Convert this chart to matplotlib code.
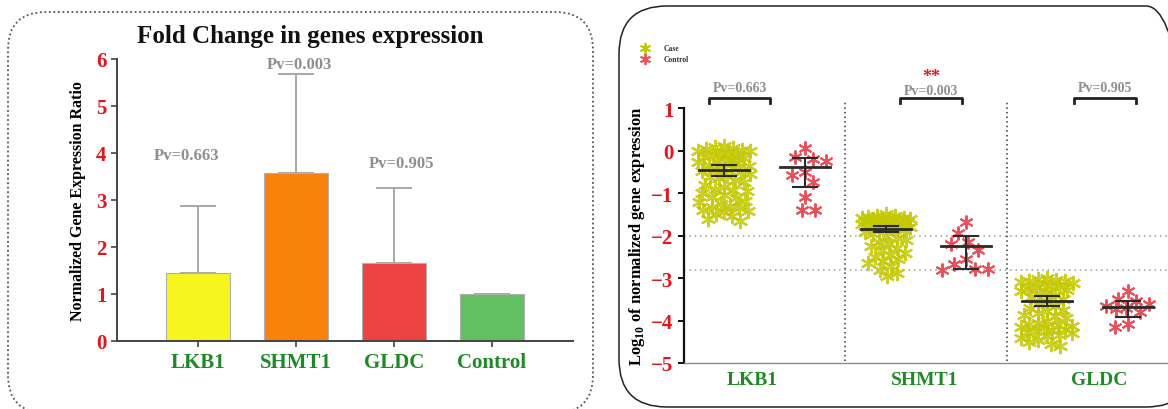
import matplotlib
matplotlib.use("Agg")
import matplotlib.pyplot as plt
from matplotlib.patches import FancyBboxPatch
from matplotlib.transforms import IdentityTransform

plt.rcParams['font.family'] = ['Liberation Serif', 'DejaVu Serif']
plt.rcParams['font.weight'] = 'bold'
plt.rcParams['axes.labelweight'] = 'bold'
plt.rcParams['mathtext.fontset'] = 'custom'
plt.rcParams['mathtext.rm'] = 'Liberation Serif:bold'
plt.rcParams['mathtext.bf'] = 'Liberation Serif:bold'

# ---- fold change (left panel) ----
bar_genes = ['LKB1', 'SHMT1', 'GLDC', 'Control']
fold_change = [1.45, 3.58, 1.65, 1.0]
fold_sd = [1.42, 2.09, 1.60, 0.0]
bar_colors = ['#f7f51e', '#f8820c', '#ee4343', '#62c062']
bar_pvalues = ['Pv=0.663', 'Pv=0.003', 'Pv=0.905']
bar_pv_x = [-0.12, 1.03, 2.08]
bar_pv_y = [3.96, 5.90, 3.79]

# ---- log10 expression (right panel) ----
genes = ['LKB1', 'SHMT1', 'GLDC']
case_lkb1 = [0.10, 0.08, 0.05, 0.03, 0.02, 0.0, -0.02, -0.05, -0.07, -0.10, -0.12,
             -0.15, -0.18, -0.20, -0.22, -0.25, -0.28, -0.30, -0.33, -0.36, -0.40,
             -0.42, -0.45, -0.48, -0.50, -0.55, -0.60, -0.62, -0.65, -0.70, -0.75,
             -0.80, -0.85, -0.90, -0.92, -0.95, -1.00, -1.05, -1.10, -1.12, -1.18,
             -1.20, -1.25, -1.30, -1.33, -1.35, -1.40, -1.42, -1.45, -1.50, -1.55,
             -1.60, -1.65]
ctrl_lkb1 = [0.05, -0.15, -0.20, -0.25, -0.50, -0.58, -0.75, -1.10, -1.40, -1.40]
case_shmt1 = [-1.50, -1.53, -1.55, -1.56, -1.58, -1.58, -1.60, -1.60, -1.61, -1.62,
              -1.63, -1.63, -1.64, -1.65, -1.65, -1.66, -1.67, -1.68, -1.68, -1.70,
              -1.70, -1.72, -1.73, -1.75, -1.76, -1.78, -1.80, -1.82, -1.85, -1.88,
              -1.92, -1.96, -2.00, -2.05, -2.10, -2.15, -2.20, -2.25, -2.30, -2.35,
              -2.40, -2.45, -2.50, -2.55, -2.60, -2.65, -2.72, -2.80, -2.88, -2.95]
ctrl_shmt1 = [-1.68, -1.93, -2.15, -2.20, -2.35, -2.55, -2.67, -2.78, -2.78, -2.82]
case_gldc = [-3.00, -3.02, -3.05, -3.06, -3.08, -3.10, -3.12, -3.15, -3.18, -3.20,
             -3.22, -3.25, -3.28, -3.30, -3.33, -3.36, -3.40, -3.45, -3.50, -3.55,
             -3.60, -3.65, -3.70, -3.75, -3.78, -3.82, -3.86, -3.90, -3.95, -4.00,
             -4.05, -4.08, -4.10, -4.12, -4.15, -4.18, -4.20, -4.22, -4.25, -4.28,
             -4.30, -4.33, -4.36, -4.40, -4.45, -4.50, -4.55, -4.60]
ctrl_gldc = [-3.30, -3.50, -3.55, -3.60, -3.65, -3.70, -3.72, -3.80, -4.08, -4.15]

case_mean = [-0.46, -1.85, -3.53]
case_low = [-0.60, -1.92, -3.67]
case_high = [-0.34, -1.78, -3.42]
ctrl_mean = [-0.39, -2.24, -3.69]
ctrl_low = [-0.85, -2.78, -3.92]
ctrl_high = [-0.18, -2.00, -3.53]
group_pvalues = ['Pv=0.663', 'Pv=0.003', 'Pv=0.905']

case_color = '#c4c800'
ctrl_color = '#e9505a'
red = '#e3161e'
green = '#1f8a25'
grey_txt = '#8f8f8f'

fig = plt.figure(figsize=(11.68, 4.10), dpi=100)

# rounded frames around the two panels (pixel coordinates)
fig.add_artist(FancyBboxPatch((8, -4), 585, 401, boxstyle='round,pad=0,rounding_size=38',
                              transform=IdentityTransform(), fill=False,
                              ec='#555555', lw=1.3, ls=(0, (1, 1.5))))
fig.add_artist(FancyBboxPatch((619, 2), 575, 401, boxstyle='round,pad=0,rounding_size=48',
                              transform=IdentityTransform(), fill=False,
                              ec='#222222', lw=1.1))

# ---------------- left: bar chart ----------------
ax1 = fig.add_axes([0.1002, 0.1659, 0.3904, 0.6878])
x = list(range(len(bar_genes)))
ax1.bar(x, fold_change, width=0.65, color=bar_colors, edgecolor='#b0b0b0', lw=0.8, zorder=2)
ax1.errorbar(x, fold_change, yerr=[[0] * len(fold_sd), fold_sd], fmt='none',
             ecolor='#a8a8a8', elinewidth=1.4, capsize=13, capthick=1.4, zorder=1)
for xv, yv, txt in zip(bar_pv_x, bar_pv_y, bar_pvalues):
    ax1.text(xv, yv, txt, ha='center', va='center', color=grey_txt, fontsize=12)
ax1.set_xlim(-0.83, 3.83)
ax1.set_ylim(0, 6)
ax1.set_xticks(x)
ax1.set_xticklabels(bar_genes, color=green, fontsize=15)
ax1.set_yticks(range(0, 7))
ax1.tick_params(axis='y', labelcolor=red, labelsize=15, length=4, width=1.2, color='#444444')
ax1.tick_params(axis='x', length=4, width=1.2, color='#444444', pad=4)
for s in ['top', 'right']:
    ax1.spines[s].set_visible(False)
for s in ['left', 'bottom']:
    ax1.spines[s].set_color('#444444')
    ax1.spines[s].set_linewidth(1.4)
ax1.set_ylabel('Normalized Gene Expression Ratio', fontsize=11.5, labelpad=7)
fig.text(310 / 1168, 1 - 36 / 410, 'Fold Change in genes expression', ha='center',
         va='center', fontsize=18, fontweight='bold', color='#111111')

# ---------------- right: swarm plot ----------------
ax2 = fig.add_axes([0.5856, 0.1122, 0.4144, 0.6219])
ax2.set_xlim(-0.5, 5.5)
ax2.set_ylim(-5, 1)

pos = ax2.get_position()
px_x = pos.width * fig.get_figwidth() * fig.dpi / 6.0
px_y = pos.height * fig.get_figheight() * fig.dpi / 6.0


def swarm(values, center, d=8.0, half_width=25):
    """Spread points sideways (in pixels) within +-half_width, avoiding overlap where possible."""
    placed = []
    xs = []
    cands = sorted(range(-half_width, half_width + 1), key=abs)
    for v in values:
        yp = v * px_y
        best, best_gap = 0, -1.0
        for o in cands:
            gap = min([((o - a) ** 2 + (yp - b) ** 2) ** 0.5 for a, b in placed] or [99.0])
            if gap >= d:
                best = o
                break
            if gap > best_gap + 0.5:
                best, best_gap = o, gap
        placed.append((best, yp))
        xs.append(center + best / px_x)
    return xs


asterisk = (6, 2, 0)
case_sets = [case_lkb1, case_shmt1, case_gldc]
ctrl_sets = [ctrl_lkb1, ctrl_shmt1, ctrl_gldc]
case_widths = [26, 24, 26]
for g in range(3):
    xc = 2 * g
    xk = 2 * g + 1
    ax2.plot(swarm(case_sets[g], xc, d=9, half_width=case_widths[g]), case_sets[g],
             ls='none', marker=asterisk, ms=11, mec=case_color, mew=1.6, alpha=0.85,
             zorder=2)
    ax2.plot(swarm(ctrl_sets[g], xk, d=13, half_width=24), ctrl_sets[g], ls='none',
             marker=asterisk, ms=10, mec=ctrl_color, mew=1.4, zorder=2)
    for xx, m, lo, hi in [(xc, case_mean[g], case_low[g], case_high[g]),
                          (xk, ctrl_mean[g], ctrl_low[g], ctrl_high[g])]:
        ax2.plot([xx - 0.31, xx + 0.31], [m, m], color='#2a2a2a', lw=2, zorder=3)
        ax2.plot([xx, xx], [lo, hi], color='#2a2a2a', lw=1.5, zorder=3)
        ax2.plot([xx - 0.15, xx + 0.15], [lo, lo], color='#2a2a2a', lw=1.5, zorder=3)
        ax2.plot([xx - 0.15, xx + 0.15], [hi, hi], color='#2a2a2a', lw=1.5, zorder=3)

# group separators and reference levels
for sx in [1.5, 3.5]:
    ax2.plot([sx, sx], [-4.95, 1.2], color='#333333', lw=1.1, ls=(0, (1, 2)), clip_on=False)
for ly in [-2.0, -2.8]:
    ax2.axhline(ly, color='#9a9a9a', lw=1.1, ls=(0, (1, 2.5)), zorder=1)

# significance brackets
brackets = [(-0.19, 0.57), (2.18, 2.95), (4.34, 5.10)]
pv_y = [1.49, 1.42, 1.49]
for (b0, b1), txt, ty in zip(brackets, group_pvalues, pv_y):
    ax2.plot([b0, b0, b1, b1], [1.12, 1.24, 1.24, 1.12], color='#222222', lw=2,
             clip_on=False)
    ax2.text((b0 + b1) / 2, ty, txt, ha='center', va='center', color=grey_txt,
             fontsize=10, clip_on=False)
ax2.text(sum(brackets[1]) / 2, 1.74, '**', ha='center', va='center', color=red,
         fontsize=13, clip_on=False)

ax2.set_yticks(range(-5, 2))
ax2.set_xticks([0.35, 2.48, 4.65])
ax2.set_xticklabels(genes, color=green, fontsize=14)
ax2.tick_params(axis='x', length=0, pad=6)
ax2.tick_params(axis='y', labelcolor=red, labelsize=15, length=4, width=1.4, color='#111111')
for s in ['top', 'right']:
    ax2.spines[s].set_visible(False)
ax2.spines['left'].set_color('#111111')
ax2.spines['left'].set_linewidth(1.6)
ax2.spines['bottom'].set_color('#8a8a8a')
ax2.spines['bottom'].set_linewidth(1.0)
ax2.set_ylabel('Log$_{10}$ of normalized gene expression', fontsize=12, labelpad=3)

# legend in the panel corner
for i, (lbl, col) in enumerate([('Case', case_color), ('Control', ctrl_color)]):
    yy = 1 - (49 + 11 * i) / 410
    fig.lines.append(plt.Line2D([645 / 1168], [yy], transform=fig.transFigure,
                                ls='none', marker=asterisk, ms=8, mec=col, mew=1.3))
    fig.text(664 / 1168, yy, lbl, color='#333333', fontsize=5.5, va='center')

fig.savefig('out.png', dpi=100)
